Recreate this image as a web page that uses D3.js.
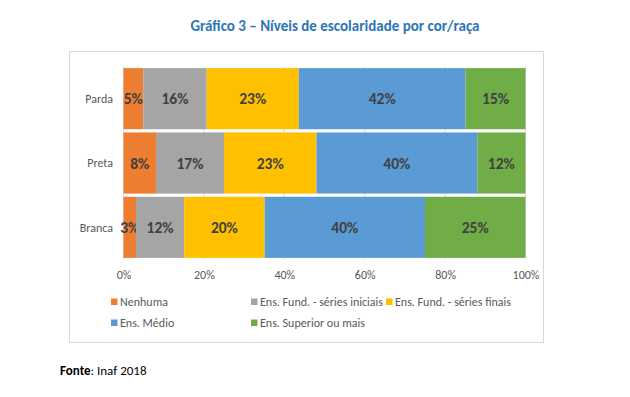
<!DOCTYPE html>
<html>
<head>
<meta charset="utf-8">
<script src="https://cdn.jsdelivr.net/npm/d3@7"></script>
<style>
  body { margin: 0; background: #fff; }
  text { font-family: Carlito, Lato, "Open Sans", sans-serif; }
</style>
</head>
<body>
<div id="chart"></div>
<script>
// data
var categories = ["Parda", "Preta", "Branca"];
var series = ["Nenhuma", "Ens. Fund. - séries iniciais", "Ens. Fund. - séries finais", "Ens. Médio", "Ens. Superior ou mais"];
var colors = ["#ED7D31", "#A5A5A5", "#FFC000", "#5B9BD5", "#70AD47"];
var nenhuma   = [4.9, 8.1, 3.1];
var fundIni   = [15.8, 16.9, 12.0];
var fundFin   = [22.9, 23.0, 20.0];
var medio     = [41.5, 40.0, 39.9];
var superior  = [14.9, 12.0, 25.0];
var xTicks = [0, 20, 40, 60, 80, 100];

var width = 630, height = 397;

var svg = d3.select("#chart").append("svg")
    .attr("width", width)
    .attr("height", height);

// title
svg.append("text")
    .attr("x", 335)
    .attr("y", 31)
    .attr("text-anchor", "middle")
    .attr("font-size", "15px")
    .attr("font-weight", "bold")
    .attr("fill", "#2E75B6")
    .text("Gráfico 3 – Níveis de escolaridade por cor/raça");

// chart frame
svg.append("rect")
    .attr("x", 69.5)
    .attr("y", 51.5)
    .attr("width", 474)
    .attr("height", 291)
    .attr("fill", "#fff")
    .attr("stroke", "#d9d9d9")
    .attr("stroke-width", 1);

var x = d3.scaleLinear().domain([0, 100]).range([123.5, 525.5]);
var y = d3.scaleBand().domain(categories).range([66.5, 259.5]).paddingInner(0.05).paddingOuter(0.025);

// gridlines
svg.append("g").selectAll("line")
    .data(xTicks)
    .enter().append("line")
    .attr("x1", function(d){ return x(d); })
    .attr("x2", function(d){ return x(d); })
    .attr("y1", 66.5)
    .attr("y2", 259.5)
    .attr("stroke", "#d9d9d9")
    .attr("stroke-width", 1);

var rows = categories.map(function(c, i){
    return { cat: c, vals: [nenhuma[i], fundIni[i], fundFin[i], medio[i], superior[i]] };
});

var stack = d3.stack().keys(d3.range(series.length)).value(function(d, k){ return d.vals[k]; });
var layers = stack(rows);

var g = svg.append("g");
layers.forEach(function(layer, k){
    var lg = g.append("g").attr("fill", colors[k]);
    lg.selectAll("rect")
        .data(layer)
        .enter().append("rect")
        .attr("x", function(d){ return x(d[0]); })
        .attr("y", function(d){ return y(d.data.cat); })
        .attr("width", function(d){ return x(d[1]) - x(d[0]); })
        .attr("height", y.bandwidth());
    lg.selectAll("text")
        .data(layer)
        .enter().append("text")
        .attr("x", function(d){ return (x(d[0]) + x(d[1])) / 2; })
        .attr("y", function(d){ return y(d.data.cat) + y.bandwidth() / 2; })
        .attr("dy", "0.36em")
        .attr("text-anchor", "middle")
        .attr("font-size", "15.5px")
        .attr("font-weight", "bold")
        .attr("fill", "#404040")
        .text(function(d){ return Math.round(d.data.vals[k]) + "%"; });
});

// category axis
svg.append("g").selectAll("text")
    .data(categories)
    .enter().append("text")
    .attr("x", 113)
    .attr("y", function(d){ return y(d) + y.bandwidth() / 2; })
    .attr("dy", "0.35em")
    .attr("text-anchor", "end")
    .attr("font-size", "12px")
    .attr("fill", "#595959")
    .text(function(d){ return d; });

// value axis
var xAxis = d3.axisBottom(x).tickValues(xTicks).tickSize(0).tickPadding(0)
    .tickFormat(function(d){ return d + "%"; });
var ax = svg.append("g").attr("transform", "translate(0,270)").call(xAxis);
ax.select(".domain").remove();
ax.selectAll("text")
    .attr("font-size", "12px")
    .attr("font-family", null)
    .attr("fill", "#595959");

// legend
var legendPos = [[111, 302], [251, 302], [386, 302], [111, 323], [251, 323]];
var leg = svg.append("g").selectAll("g")
    .data(series)
    .enter().append("g")
    .attr("transform", function(d, i){ return "translate(" + legendPos[i][0] + "," + legendPos[i][1] + ")"; });
leg.append("rect")
    .attr("x", 0)
    .attr("y", -3.5)
    .attr("width", 6.5)
    .attr("height", 6.5)
    .attr("fill", function(d, i){ return colors[i]; });
leg.append("text")
    .attr("x", 9)
    .attr("y", 0)
    .attr("dy", "0.35em")
    .attr("font-size", "12px")
    .attr("fill", "#595959")
    .text(function(d){ return d; });

// source
var src = svg.append("text")
    .attr("x", 60)
    .attr("y", 375)
    .attr("font-size", "13px")
    .attr("fill", "#000");
src.append("tspan").attr("font-weight", "bold").text("Fonte");
src.append("tspan").text(": Inaf 2018");
</script>
</body>
</html>
